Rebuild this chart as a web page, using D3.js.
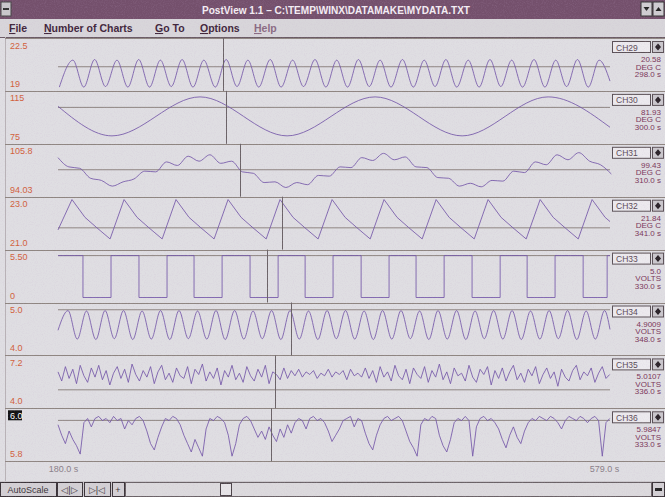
<!DOCTYPE html>
<html>
<head>
<meta charset="utf-8">
<script src="https://cdn.jsdelivr.net/npm/d3@7"></script>
<style>
body { margin: 0; background: #dfdee2; }
svg { display: block; font-family: "Liberation Sans", Arial, sans-serif; }
</style>
</head>
<body>
<svg id="chart" width="665" height="497"></svg>
<script>
// channel settings
const channels = ["CH29", "CH30", "CH31", "CH32", "CH33", "CH34", "CH35", "CH36"];
const yMin = [19, 75, 94.03, 21.0, 0, 4.0, 4.0, 5.8];
const yMax = [22.5, 115, 105.8, 23.0, 5.5, 5.0, 7.2, 6.0];
const minLabels = ["19", "75", "94.03", "21.0", "0", "4.0", "4.0", "5.8"];
const maxLabels = ["22.5", "115", "105.8", "23.0", "5.50", "5.0", "7.2", "6.0"];
const refValues = [20.6, 105, 100.2, 21.8, 5.5, 4.97, 5.03, 5.971];
const readValues = ["20.58", "81.93", "99.43", "21.84", "5.0", "4.9009", "5.0107", "5.9847"];
const readUnits = ["DEG C", "DEG C", "DEG C", "DEG C", "VOLTS", "VOLTS", "VOLTS", "VOLTS"];
const readTimes = [298.0, 300.0, 310.0, 341.0, 330.0, 348.0, 336.0, 333.0];

const timeDomain = [176, 583];
const timeTicks = [180, 579];
const timeLabels = ["180.0 s", "579.0 s"];

const menuItems = ["File", "Number of Charts", "Go To", "Options", "Help"];
const menuX = [9, 44, 155, 200, 254];

// [time, value] pairs
const ch29 = [[177,18.9],[187,21.15],[195,18.9],[203,21.2],[211,18.95],[219.5,21.15],[227.5,18.9],[235.5,21.2],
  [243.5,18.9],[251.5,21.15],[259.5,18.95],[267.5,21.2],[275.5,18.9],[283.5,21.15],[292,18.9],[300,21.2],
  [308,18.95],[316,21.15],[324,18.9],[332.5,21.2],[340.5,18.9],[349,21.15],[357,18.95],[365.5,21.2],
  [373.5,18.9],[381.5,21.15],[389.5,18.9],[397.5,21.2],[405.5,18.95],[413.5,21.15],[421.5,18.9],[430,21.2],
  [438,18.9],[446,21.15],[454,18.95],[462,21.2],[470,18.9],[478.5,21.15],[486.5,18.9],[494.5,21.2],
  [502.5,18.95],[510.5,21.15],[518.5,18.9],[527,21.2],[535,18.9],[543,21.15],[551,18.95],[559,21.2],
  [567,18.9],[575,21.15],[583,19.4]];

const ch30 = [[176,106],[215.8,77.8],[280.7,115],[344.9,77.8],[409.8,115],[474,77.8],[537.4,115],[583,86]];

const ch31 = [[176,103.6],[184,101.0],[192,100.6],[200,97.8],[208,97.2],[216,95.6],[224,96.8],[232,97.6],
  [240,99.8],[248,99.6],[256,102.4],[264,101.4],[272,104.0],[280,102.6],[288,104.4],[296,102.0],
  [304,102.6],[312,99.6],[320,99.2],[328,96.6],[336,96.8],[344,95.2],[352,96.6],[360,96.0],
  [368,98.6],[376,98.4],[384,101.0],[392,100.8],[400,103.6],[408,102.8],[416,104.8],[424,103.0],
  [432,103.8],[440,101.0],[448,100.8],[456,98.0],[464,97.8],[472,95.6],[480,96.4],[488,95.4],
  [496,97.2],[504,97.0],[512,99.8],[520,99.4],[528,102.4],[536,101.6],[544,104.4],[552,103.0],
  [560,105.0],[568,102.6],[576,101.6],[584,99.0]];

const ch32 = [[176,21.7],
  [186.3,23.15],[195.9,22.3],[204.7,21.8],[214.4,21.27],
  [224.7,23.15],[234.3,22.3],[243.1,21.8],[252.8,21.27],
  [263.0,23.15],[272.6,22.3],[281.4,21.8],[291.1,21.27],
  [301.4,23.15],[311.0,22.3],[319.8,21.8],[329.5,21.27],
  [339.7,23.15],[349.3,22.3],[358.1,21.8],[367.8,21.27],
  [378.1,23.15],[387.7,22.3],[396.5,21.8],[406.2,21.27],
  [416.4,23.15],[426.0,22.3],[434.8,21.8],[444.5,21.27],
  [454.8,23.15],[464.4,22.3],[473.2,21.8],[482.9,21.27],
  [493.1,23.15],[502.7,22.3],[511.5,21.8],[521.2,21.27],
  [531.5,23.15],[541.1,22.3],[549.9,21.8],[559.6,21.27],
  [569.8,23.15],[579.4,22.3],[583,22.1]];

const ch33 = [[176,5.5],[194.4,0],[215.1,5.5],[235.7,0],[256.4,5.5],[276.3,0],[297.0,5.5],[317.6,0],
  [338.3,5.5],[358.2,0],[378.8,5.5],[399.5,0],[420.1,5.5],[440.0,0],[460.7,5.5],[481.3,0],
  [502.0,5.5],[521.9,0],[542.5,5.5],[563.2,0],[580.9,5.5],[583,5.5]];

const ch34 = [[176,4.48],[183.4,4.95],[190.2,4.27],[197.0,4.94],[203.9,4.26],[210.7,4.95],[217.5,4.28],
  [224.3,4.95],[231.1,4.26],[238.0,4.94],[244.8,4.27],[251.6,4.95],[258.4,4.26],[265.2,4.95],
  [272.1,4.28],[278.9,4.94],[285.7,4.27],[292.5,4.95],[299.3,4.26],[306.2,4.95],[313.0,4.27],
  [319.8,4.94],[326.6,4.28],[333.5,4.95],[340.3,4.26],[347.1,4.95],[353.9,4.27],[360.7,4.94],
  [367.6,4.26],[374.4,4.95],[381.2,4.28],[388.0,4.95],[394.8,4.27],[401.7,4.94],[408.5,4.26],
  [415.3,4.95],[422.1,4.27],[428.9,4.95],[435.8,4.28],[442.6,4.94],[449.4,4.26],[456.2,4.95],
  [463.0,4.27],[469.9,4.95],[476.7,4.26],[483.5,4.94],[490.3,4.28],[497.2,4.95],[504.0,4.27],
  [510.8,4.95],[517.6,4.26],[524.4,4.94],[531.3,4.27],[538.1,4.95],[544.9,4.28],[551.7,4.95],
  [558.5,4.26],[565.4,4.94],[572.2,4.27],[579.0,4.95],[583,4.5]];

// sampled channels: start time and sample step
const sampleStart = 176;
const sampleStep = 2.73;

const ch35 = [6.4,5.7,6.8,5.9,6.6,5.5,6.9,6.1,5.6,6.7,6.0,6.9,5.8,6.5,5.4,6.3,6.8,5.9,6.6,5.6,
  7.0,6.2,5.7,6.5,6.0,6.8,5.5,6.4,6.9,5.8,6.3,5.6,6.7,6.1,5.9,6.8,5.5,6.6,6.2,7.0,
  5.7,6.4,5.9,6.7,5.4,6.5,6.0,6.9,5.8,6.3,5.6,6.8,6.1,5.7,6.6,6.0,6.9,5.5,6.4,6.2,
  5.8,6.7,5.9,6.5,6.1,6.6,6.0,6.4,6.2,6.5,5.9,6.3,6.1,6.6,6.0,6.4,6.2,6.5,5.8,6.6,
  6.1,6.3,6.0,6.7,5.9,6.5,5.6,6.8,6.0,6.4,5.7,6.9,6.1,5.8,6.6,5.5,6.7,6.2,5.9,6.8,
  5.6,6.5,6.0,7.0,5.8,6.4,5.5,6.7,6.1,6.3,5.7,6.9,6.0,5.6,6.6,6.2,6.8,5.4,6.5,5.9,
  6.7,5.7,6.4,6.9,5.8,6.3,5.6,6.6,6.1,6.8,5.5,6.2,6.7,5.9,6.4,5.3,6.6,6.0,5.7,6.5,
  6.9,5.8,6.4,6.1,6.7,5.6,6.3,6.8,5.9,6.2];

const ch36 = [5.95,5.90,5.86,5.92,5.88,5.85,5.81,5.96,5.98,5.94,5.98,5.99,5.97,5.98,5.96,5.99,5.97,5.98,5.93,5.97,
  5.95,5.98,5.99,5.97,5.92,5.86,5.83,5.89,5.94,5.98,5.97,5.99,5.98,5.95,5.90,5.86,5.82,5.88,5.84,5.80,
  5.93,5.98,5.97,5.99,5.98,5.96,5.90,5.80,5.86,5.95,5.98,5.99,5.97,5.93,5.89,5.92,5.88,5.94,5.90,5.87,
  5.93,5.89,5.95,5.91,5.96,5.98,5.97,5.93,5.98,5.99,5.97,5.98,5.96,5.92,5.87,5.90,5.93,5.97,5.98,5.99,
  5.94,5.98,5.97,5.91,5.86,5.83,5.90,5.95,5.98,5.99,5.97,5.98,5.99,5.97,5.92,5.87,5.84,5.80,5.95,5.98,
  5.97,5.99,5.98,5.90,5.85,5.82,5.88,5.96,5.98,5.97,5.99,5.97,5.80,5.94,5.98,5.99,5.97,5.98,5.96,5.93,
  5.88,5.84,5.90,5.94,5.89,5.86,5.92,5.96,5.98,5.97,5.99,5.98,5.97,5.99,5.98,5.96,5.93,5.97,5.99,5.98,
  5.97,5.99,5.98,5.96,5.98,5.99,5.97,5.80,5.96,5.98];

function sampled(values) {
    return values.map((v, i) => [sampleStart + i * sampleStep, v]);
}

const series = [ch29, ch30, ch31, ch32, ch33, ch34, sampled(ch35), sampled(ch36)];
const curves = [d3.curveMonotoneX, d3.curveMonotoneX, d3.curveMonotoneX, d3.curveLinear,
    d3.curveStepAfter, d3.curveMonotoneX, d3.curveLinear, d3.curveLinear];

const svg = d3.select("#chart");
const stripTop = 38, stripH = 52.9;
const lineCol = "#8e8580", traceCol = "#7356a8", labelCol = "#d2603a", readCol = "#7a3458";

// grain filter for the old screen look
const defs = svg.append("defs");
const f = defs.append("filter").attr("id", "grain").attr("x", 0).attr("y", 0).attr("width", 1).attr("height", 1);
f.append("feTurbulence").attr("type", "fractalNoise").attr("baseFrequency", 0.9).attr("numOctaves", 2).attr("seed", 4);
f.append("feColorMatrix").attr("type", "matrix")
    .attr("values", "0 0 0 0 0.55  0 0 0 0 0.4  0 0 0 0 0.6  1.6 0 0 0 -0.7");

svg.append("rect").attr("width", 665).attr("height", 497).attr("fill", "#dfdee2");

// title bar
svg.append("rect").attr("width", 665).attr("height", 19).attr("fill", "#74506c");
svg.append("rect").attr("x", 1).attr("y", 2).attr("width", 10).attr("height", 14).attr("fill", "#c9c7cb").attr("stroke", "#444");
svg.append("rect").attr("x", 3).attr("y", 8).attr("width", 6).attr("height", 2).attr("fill", "#333");
svg.append("text").attr("x", 336).attr("y", 14).attr("text-anchor", "middle")
    .attr("font-size", 11).attr("font-weight", "bold").attr("fill", "#f4eef4")
    .attr("textLength", 268).attr("lengthAdjust", "spacingAndGlyphs")
    .text("PostView 1.1 \u2013 C:\\TEMP\\WINX\\DATAMAKE\\MYDATA.TXT");
[641, 653].forEach((bx, k) => {
    svg.append("rect").attr("x", bx).attr("y", 2).attr("width", 11).attr("height", 14)
        .attr("fill", "#cfcdd1").attr("stroke", "#333");
    svg.append("path").attr("fill", "#222")
        .attr("d", k === 0 ? `M${bx + 2.5},7 h6 l-3,4 z` : `M${bx + 2.5},11 h6 l-3,-4 z`);
});

// menu bar
svg.append("rect").attr("y", 19).attr("width", 665).attr("height", 18).attr("fill", "#d8d6da");
menuItems.forEach((m, i) => {
    const t = svg.append("text").attr("x", menuX[i]).attr("y", 32)
        .attr("font-size", 10.5).attr("font-weight", "bold")
        .attr("fill", i === 4 ? "#8a6a82" : "#40253a");
    t.append("tspan").attr("text-decoration", "underline").text(m[0]);
    t.append("tspan").text(m.slice(1));
});
svg.append("line").attr("x1", 0).attr("x2", 665).attr("y1", 37.5).attr("y2", 37.5)
    .attr("stroke", "#6a5a64").attr("stroke-width", 1);

const x = d3.scaleLinear().domain(timeDomain).range([58, 610]);

// window left edge
svg.append("line").attr("x1", 5.5).attr("x2", 5.5).attr("y1", 37).attr("y2", 481)
    .attr("stroke", "#b8b2b6");

// strip separators
d3.range(channels.length + 1).forEach(k => {
    const yy = Math.round(stripTop + k * stripH) + 0.5;
    svg.append("line").attr("x1", 5).attr("x2", 665).attr("y1", yy).attr("y2", yy)
        .attr("stroke", lineCol).attr("stroke-width", 1.2);
});

channels.forEach((ch, i) => {
    const top = stripTop + i * stripH, bottom = top + stripH;
    const y = d3.scaleLinear().domain([yMin[i], yMax[i]]).range([bottom - 5, top + 6]);
    const g = svg.append("g");

    // reference level
    g.append("line").attr("x1", x.range()[0]).attr("x2", x.range()[1])
        .attr("y1", y(refValues[i])).attr("y2", y(refValues[i]))
        .attr("stroke", lineCol).attr("stroke-width", 1);

    // trace
    const line = d3.line().x(d => x(d[0])).y(d => y(d[1])).curve(curves[i]);
    g.append("path").datum(series[i]).attr("d", line)
        .attr("fill", "none").attr("stroke", traceCol).attr("stroke-width", 1)
        .attr("stroke-opacity", 0.85);

    // cursor
    const cx = Math.round(x(readTimes[i])) + 0.5;
    g.append("line").attr("x1", cx).attr("x2", cx).attr("y1", top).attr("y2", bottom)
        .attr("stroke", "#6a6266").attr("stroke-width", 1);

    // scale labels
    if (i === 7) {
        g.append("rect").attr("x", 8).attr("y", top + 2).attr("width", 14).attr("height", 10).attr("fill", "#111");
    }
    g.append("text").attr("x", 10).attr("y", top + 10.5).attr("font-size", 9)
        .attr("fill", i === 7 ? "#fff" : labelCol).text(maxLabels[i]);
    g.append("text").attr("x", 10).attr("y", bottom - 4).attr("font-size", 9)
        .attr("fill", labelCol).text(minLabels[i]);

    // channel box and readout
    g.append("rect").attr("x", 612.5).attr("y", top + 3.5).attr("width", 38).attr("height", 11)
        .attr("fill", "#eceaee").attr("stroke", "#5a5056");
    g.append("text").attr("x", 616).attr("y", top + 12.5).attr("font-size", 8.5)
        .attr("fill", "#5a4a56").text(ch);
    g.append("rect").attr("x", 652.5).attr("y", top + 3.5).attr("width", 11).attr("height", 11)
        .attr("fill", "#cac7cc").attr("stroke", "#5a5056");
    g.append("path").attr("fill", "#2a2228")
        .attr("d", `M658,${top + 5.5} l3,3.5 l-3,3.5 l-3,-3.5 z`);
    [readValues[i], readUnits[i], readTimes[i].toFixed(1) + " s"].forEach((s, k) => {
        g.append("text").attr("x", 661).attr("y", top + 24 + k * 7.5).attr("text-anchor", "end")
            .attr("font-size", 8).attr("fill", readCol).text(s);
    });
});

// time labels
timeTicks.forEach((t, k) => {
    svg.append("text").attr("x", x(t)).attr("y", 472).attr("text-anchor", "middle")
        .attr("font-size", 9).attr("fill", "#8a7f88").text(timeLabels[k]);
});

// scroll bar
svg.append("rect").attr("y", 481).attr("width", 665).attr("height", 16).attr("fill", "#cbc8cc");
const buttons = [["AutoScale", 0, 56], ["\u25c1|\u25b7", 57, 25], ["\u25b7|\u25c1", 84, 26], ["+", 112, 12]];
buttons.forEach(b => {
    svg.append("rect").attr("x", b[1] + 0.5).attr("y", 482.5).attr("width", b[2]).attr("height", 14)
        .attr("fill", "#d3d0d4").attr("stroke", "#3a3338");
    svg.append("text").attr("x", b[1] + b[2] / 2).attr("y", 493).attr("text-anchor", "middle")
        .attr("font-size", 9).attr("fill", "#3a3338").text(b[0]);
});
svg.append("rect").attr("x", 125.5).attr("y", 482.5).attr("width", 526).attr("height", 14)
    .attr("fill", "#dcdadd").attr("stroke", "#6a6266");
svg.append("rect").attr("x", 220.5).attr("y", 483.5).attr("width", 11).attr("height", 12)
    .attr("fill", "#e6e4e7").attr("stroke", "#4a4247");
svg.append("rect").attr("x", 652.5).attr("y", 482.5).attr("width", 12).attr("height", 14)
    .attr("fill", "#d3d0d4").attr("stroke", "#3a3338");
svg.append("rect").attr("x", 655).attr("y", 488).attr("width", 7).attr("height", 3).attr("fill", "#222");

// grain overlay
svg.append("rect").attr("width", 665).attr("height", 497).attr("filter", "url(#grain)")
    .attr("opacity", 0.22).attr("pointer-events", "none");
</script>
</body>
</html>
